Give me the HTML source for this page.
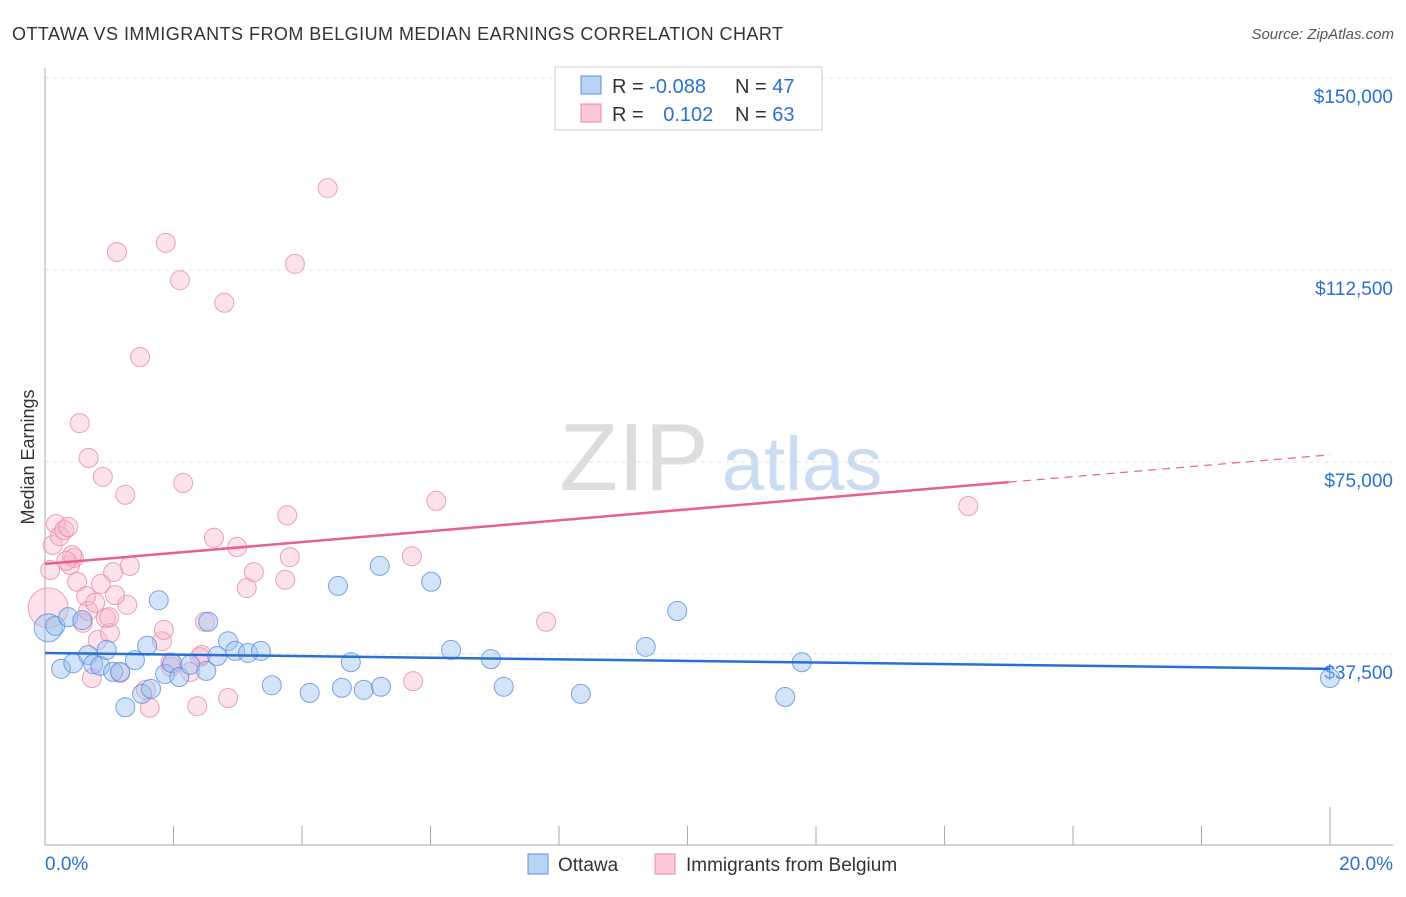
<!DOCTYPE html>
<html><head><meta charset="utf-8"><style>
body{margin:0;background:#fff;font-family:"Liberation Sans",sans-serif;}
svg text{font-family:"Liberation Sans",sans-serif;}
</style></head><body>
<svg id="c" width="1406" height="892" xmlns="http://www.w3.org/2000/svg">
<text x="12" y="40" font-size="18" fill="#333" textLength="771">OTTAWA VS IMMIGRANTS FROM BELGIUM MEDIAN EARNINGS CORRELATION CHART</text>
<text x="1394" y="39" font-size="15" fill="#555" text-anchor="end" font-style="italic">Source: ZipAtlas.com</text>
<g>
<text x="634" y="490" font-size="96" fill="#ddd" text-anchor="middle" font-family="Liberation Serif">ZIP</text>
<text x="802" y="490" font-size="76" fill="#c9dcf2" text-anchor="middle">atlas</text>
</g>
<g id="grid"></g><g id="axes"></g><g id="pts"></g><g id="lines"></g>
<g>
<rect x="555" y="67" width="267" height="63" fill="#fff" stroke="#ccc"/>
<rect x="581" y="76" width="20" height="18" fill="#b9d3f6" stroke="#5b8fdd"/>
<rect x="581" y="104" width="20" height="18" fill="#fbc8d8" stroke="#e889a8"/>
<text x="612" y="93" font-size="20" fill="#333">R = <tspan fill="#2a6fd6">-0.088</tspan></text>
<text x="735" y="93" font-size="20" fill="#333">N = <tspan fill="#2a6fd6">47</tspan></text>
<text x="612" y="121" font-size="20" fill="#333">R = <tspan fill="#2a6fd6" dx="14">0.102</tspan></text>
<text x="735" y="121" font-size="20" fill="#333">N = <tspan fill="#2a6fd6">63</tspan></text>
</g>
<g>
<rect x="528" y="854" width="20" height="20" fill="#b9d3f6" stroke="#5b8fdd"/>
<text x="558" y="871" font-size="19" fill="#333">Ottawa</text>
<rect x="655" y="854" width="20" height="20" fill="#fbc8d8" stroke="#e889a8"/>
<text x="686" y="871" font-size="19" fill="#333">Immigrants from Belgium</text>
</g>
<text transform="translate(34,457) rotate(-90)" font-size="18" fill="#333" text-anchor="middle">Median Earnings</text>
</svg>
<script>
const yTicks=[37500,75000,112500,150000];
const yTickLabels=["$37,500","$75,000","$112,500","$150,000"];
const xTicks=[0,2,4,6,8,10,12,14,16,18,20];
const blueX=[.05,.16,.25,.36,.44,.58,.67,.75,.86,.96,1.06,1.17,1.25,1.40,1.51,1.59,1.65,1.77,1.87,1.98,2.09,2.26,2.51,2.54,2.68,2.85,2.96,3.16,3.36,3.53,4.12,4.56,4.62,4.76,4.96,5.21,5.23,6.01,6.32,6.94,7.14,8.34,9.35,9.84,11.52,11.78,20.0];
const blueY=[42.6,43.0,34.6,44.7,35.7,44.1,37.3,35.5,35.2,38.3,34.0,34.0,27.1,36.3,29.7,39.1,30.7,48.0,33.6,35.7,33.0,35.4,34.2,43.8,37.1,40.0,38.1,37.7,38.1,31.4,29.9,50.8,30.9,35.9,30.5,54.7,31.1,51.6,38.3,36.5,31.1,29.7,38.9,45.9,29.1,35.9,32.8];
const pinkX=[.05,.08,.12,.17,.23,.30,.36,.39,.45,.50,.54,.59,.64,.67,.68,.73,.78,.82,.87,.90,.95,1.01,1.06,1.12,1.17,1.25,1.28,1.32,1.48,1.57,1.63,1.82,1.85,1.88,1.96,2.10,2.15,2.26,2.37,2.44,2.49,2.63,2.79,2.85,2.99,3.14,3.25,3.74,3.77,3.81,3.89,4.40,5.71,5.73,6.09,7.80,14.37,.42,1.09,1.95,2.41,.33,1.0];
const pinkY=[46.5,53.9,58.8,62.9,60.5,61.7,62.3,54.9,56.3,51.6,82.6,43.6,48.8,45.9,75.8,32.8,47.5,40.2,51.2,72.1,44.5,41.6,53.5,116.0,33.8,68.6,47.1,54.7,95.5,30.5,27.0,40.0,42.2,117.8,35.0,110.5,70.9,34.0,27.3,37.3,43.8,60.2,106.1,28.9,58.4,50.4,53.5,52.0,64.6,56.4,113.7,128.5,56.6,32.2,67.4,43.8,66.4,56.8,49.0,35.9,36.9,55.7,44.7];
const blueTrend=[37.7,34.6];
const pinkTrend=[55.1,76.4];
const pinkSolidEnd=15;
const NS="http://www.w3.org/2000/svg";
const xs=v=>45+v*64.25, ys=v=>846-v*0.00512*1000;
function mk(p,t,a){const e=document.createElementNS(NS,t);for(const k in a)e.setAttribute(k,a[k]);document.getElementById(p).appendChild(e);return e;}
yTicks.forEach((t,i)=>{const y=846-t*0.00512;
const g=mk('grid','line',{x1:45,x2:1393,y1:y,y2:y,stroke:'#e2e2e2','stroke-dasharray':'4,4'});


const l=mk('grid','text',{x:1393,y:y+25,'font-size':19,fill:'#2a6fd6','text-anchor':'end'});l.textContent=yTickLabels[i];

});
const ax=mk('axes','line',{x1:45,x2:1393,y1:845,y2:845,stroke:'#aaa'});


const ay=mk('axes','line',{x1:45,x2:45,y1:68,y2:845,stroke:'#aaa'});


xTicks.forEach(t=>{const x=xs(t);const tk=mk('axes','line',{x1:x,x2:x,y1:(t%20==0&&t>0)?807:826,y2:845,stroke:'#aaa'});

});
const xl0=mk('axes','text',{x:45,y:870,'font-size':19,fill:'#2a6fd6'});xl0.textContent='0.0%';


const xl1=mk('axes','text',{x:1393,y:870,'font-size':19,fill:'#2a6fd6','text-anchor':'end'});xl1.textContent='20.0%';


function pts(X,Y,fill,stroke,name,big){X.forEach((x,i)=>{const c=mk('pts','circle',{cx:xs(x),cy:ys(Y[i]),r:i==0?big:9.5,fill:fill,stroke:stroke,'stroke-width':1,'stroke-opacity':0.8});

});}
pts(pinkX,pinkY,'rgba(248,182,204,0.4)','#e889a8','belgium-point',20);
pts(blueX,blueY,'rgba(160,196,240,0.45)','#5b8fdd','ottawa-point',14);
const bl=mk('lines','line',{x1:xs(0),y1:ys(blueTrend[0]),x2:xs(20),y2:ys(blueTrend[1]),stroke:'#2a6fd6','stroke-width':2.5});


const pm=pinkTrend[0]+(pinkTrend[1]-pinkTrend[0])*pinkSolidEnd/20;
const pl=mk('lines','line',{x1:xs(0),y1:ys(pinkTrend[0]),x2:xs(pinkSolidEnd),y2:ys(pm),stroke:'#e8608f','stroke-width':2.5});


const pd=mk('lines','line',{x1:xs(pinkSolidEnd),y1:ys(pm),x2:xs(20),y2:ys(pinkTrend[1]),stroke:'#e8608f','stroke-width':1.2,'stroke-dasharray':'8,6'});


</script>
</body></html>
